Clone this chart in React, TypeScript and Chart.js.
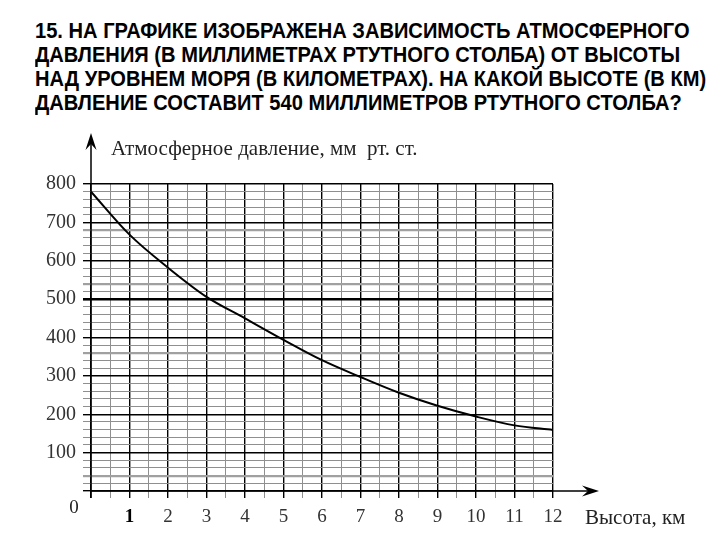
import { useEffect, useRef } from "react"
import { Chart, registerables } from "chart.js"

Chart.register(...registerables)

// Height above sea level, km
const heights = [0, 1, 2, 3, 4, 5, 6, 7, 8, 9, 10, 11, 12]
// Atmospheric pressure, mm Hg
const pressure = [780, 668, 582, 506, 450, 394, 341, 297, 256, 222, 194, 171, 159]

const titleLines = [
  "15. НА ГРАФИКЕ ИЗОБРАЖЕНА ЗАВИСИМОСТЬ АТМОСФЕРНОГО",
  "ДАВЛЕНИЯ (В МИЛЛИМЕТРАХ РТУТНОГО СТОЛБА) ОТ ВЫСОТЫ",
  "НАД УРОВНЕМ МОРЯ (В КИЛОМЕТРАХ). НА КАКОЙ ВЫСОТЕ (В КМ)",
  "ДАВЛЕНИЕ СОСТАВИТ 540 МИЛЛИМЕТРОВ РТУТНОГО СТОЛБА?",
]
const yTitle = "Атмосферное давление, мм  рт. ст."
const xTitle = "Высота, км"

// faint doubled lines in the scan
const heavyGray = [40, 360, 540, 680]

const serif = "'Liberation Serif', 'Times New Roman', serif"

function arrow(ctx: CanvasRenderingContext2D, x: number, y: number, dir: "up" | "right") {
  ctx.save()
  ctx.translate(x, y)
  if (dir === "right") ctx.rotate(Math.PI / 2)
  ctx.beginPath()
  ctx.moveTo(0, 0)
  ctx.lineTo(-5.5, 17)
  ctx.lineTo(0, 11)
  ctx.lineTo(5.5, 17)
  ctx.closePath()
  ctx.fillStyle = "#000"
  ctx.fill()
  ctx.restore()
}

const decor = {
  id: "decor",
  afterDraw(chart: Chart) {
    const ctx = chart.ctx
    const x0 = chart.scales.x.getPixelForValue(0)
    const y0 = chart.scales.y.getPixelForValue(0)
    ctx.save()
    ctx.strokeStyle = "#000"
    ctx.lineWidth = 1.5
    ctx.beginPath()
    ctx.moveTo(x0, y0 + 7)
    ctx.lineTo(x0, 140)
    ctx.moveTo(x0, y0)
    ctx.lineTo(592, y0)
    ctx.stroke()
    arrow(ctx, x0, 133, "up")
    arrow(ctx, 599, y0, "right")

    ctx.fillStyle = "#222"
    ctx.font = `21px ${serif}`
    ctx.textBaseline = "alphabetic"
    ctx.textAlign = "left"
    ctx.fillText(yTitle, 111, 155)
    ctx.fillText(xTitle, 585, 524)
    ctx.font = `19px ${serif}`
    ctx.textAlign = "center"
    ctx.fillText("0", 74, 513)
    ctx.restore()
  },
}

const tickVal = (c: any): number => (c && c.tick ? Number(c.tick.value) : NaN)

export default function App() {
  const chartRef = useRef<HTMLCanvasElement>(null)
  const chartInstance = useRef<Chart | null>(null)

  useEffect(() => {
    if (!chartRef.current) return
    if (chartInstance.current) chartInstance.current.destroy()

    chartInstance.current = new Chart(chartRef.current, {
      type: "line",
      data: {
        datasets: [
          {
            data: heights.map((h, i) => ({ x: h, y: pressure[i] })),
            borderColor: "#000",
            borderWidth: 2,
            pointRadius: 0,
            cubicInterpolationMode: "monotone",
            fill: false,
          },
        ],
      },
      options: {
        responsive: true,
        maintainAspectRatio: false,
        animation: false,
        events: [],
        layout: { padding: { top: 184, right: 167, left: 0, bottom: 0 } },
        plugins: {
          legend: { display: false },
          tooltip: { enabled: false },
        },
        scales: {
          x: {
            type: "linear",
            min: 0,
            max: 12,
            afterFit: (scale) => {
              scale.height = 49
            },
            border: { display: false },
            grid: {
              color: (c) => (Number.isInteger(tickVal(c)) ? "#000" : "#8f8f8f"),
              lineWidth: (c) => (Number.isInteger(tickVal(c)) ? 1.4 : 1),
              tickLength: 7,
            },
            ticks: {
              stepSize: 0.5,
              autoSkip: false,
              maxRotation: 0,
              padding: 8,
              color: (c) => (tickVal(c) === 1 ? "#000" : "#333"),
              font: (c) =>
                tickVal(c) === 1
                  ? { family: serif, size: 19, weight: "bold" }
                  : { family: serif, size: 19 },
              callback: (v) => {
                const n = Number(v)
                return Number.isInteger(n) && n !== 0 ? String(n) : ""
              },
            },
          },
          y: {
            type: "linear",
            min: 0,
            max: 800,
            afterFit: (scale) => {
              scale.width = 91
            },
            border: { display: false },
            grid: {
              color: (c) => {
                const v = tickVal(c)
                if (v % 100 === 0) return "#000"
                return heavyGray.includes(v) ? "#a0a0a0" : "#8f8f8f"
              },
              lineWidth: (c) => {
                const v = tickVal(c)
                if (v === 500) return 2.6
                if (v % 100 === 0) return 1.4
                return heavyGray.includes(v) ? 2.2 : 1
              },
              tickLength: 8,
            },
            ticks: {
              stepSize: 20,
              autoSkip: false,
              padding: 7,
              color: "#333",
              font: { family: serif, size: 20 },
              callback: (v) => {
                const n = Number(v)
                return n % 100 === 0 && n !== 0 ? String(n) : ""
              },
            },
          },
        },
      },
      plugins: [decor],
    })

    return () => {
      if (chartInstance.current) {
        chartInstance.current.destroy()
        chartInstance.current = null
      }
    }
  }, [])

  return (
    <div style={{ position: "absolute", left: 0, top: 0, width: 720, height: 540, background: "#fff" }}>
      <div
        style={{
          position: "absolute",
          left: 35,
          top: 19,
          fontFamily: "'Liberation Sans', Arial, sans-serif",
          fontWeight: "bold",
          fontSize: 21.5,
          lineHeight: "24px",
          color: "#000",
          whiteSpace: "nowrap",
          transform: "scaleX(0.935)",
          transformOrigin: "left top",
        }}
      >
        {titleLines.map((t) => (
          <div key={t}>{t}</div>
        ))}
      </div>
      <div style={{ position: "absolute", left: 0, top: 0, width: 720, height: 540 }}>
        <canvas ref={chartRef} />
      </div>
    </div>
  )
}
